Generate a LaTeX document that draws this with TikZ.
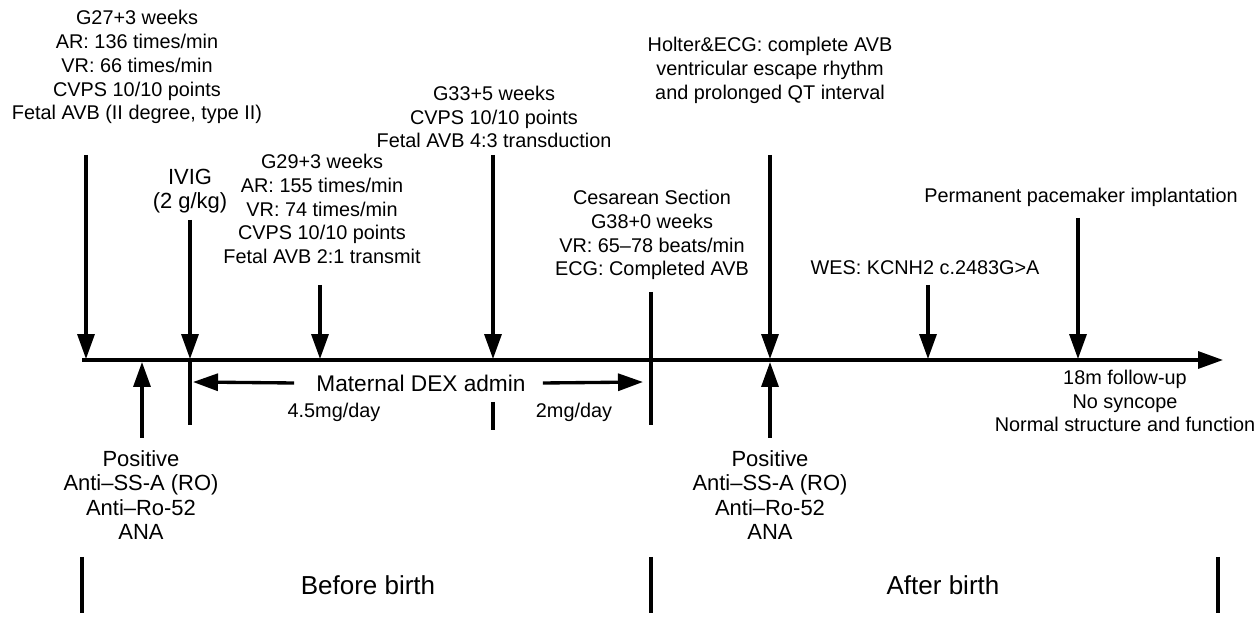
\documentclass[tikz,border=0pt]{standalone}
\usepackage{fontspec}
\setmainfont{Liberation Sans}
\usetikzlibrary{arrows.meta}
\tikzset{
    bar/.style={line width=1.9pt},
    pointer/.style={bar, -{Triangle[length=0.5cm,width=0.34cm]}},
    info/.style={align=center, inner sep=0pt, font=\fontsize{11.3}{13.6}\selectfont},
    infobig/.style={align=center, inner sep=0pt, font=\fontsize{12.5}{13.8}\selectfont},
    dose/.style={inner sep=0pt, font=\fontsize{11.3}{13}\selectfont},
    period/.style={inner sep=0pt, font=\fontsize{14.8}{17}\selectfont}
}
\begin{document}
\begin{tikzpicture}[x=0.02cm, y=-0.02cm]
        \useasboundingbox (0,0) rectangle (1257,617);

        % Coordinates
        \coordinate (start) at (82,360);
        \coordinate (end) at (1223,360);
        \coordinate (A) at (86,359);
        \coordinate (A0) at (86,155);
        \coordinate (B) at (190,359);
        \coordinate (B0) at (190,220);
        \coordinate (B1) at (190,425);
        \coordinate (C) at (320,359);
        \coordinate (C0) at (320,285);
        \coordinate (D) at (493,359);
        \coordinate (D0) at (493,155);
        \coordinate (E0) at (651,292);
        \coordinate (E1) at (651,425);
        \coordinate (F) at (770,359);
        \coordinate (F0) at (770,155);
        \coordinate (G) at (928,359);
        \coordinate (G0) at (928,285);
        \coordinate (H) at (1078,359);
        \coordinate (H0) at (1078,218);
        \coordinate (P) at (142,362);
        \coordinate (P0) at (142,438);
        \coordinate (Q) at (770,362);
        \coordinate (Q0) at (770,438);

        % Time axis
        \draw[pointer] (start) -- (end);

        % Events above the axis
        \draw[pointer] (A0) -- (A);
        \draw[pointer] (B0) -- (B);
        \draw[bar] (B) -- (B1);
        \draw[pointer] (C0) -- (C);
        \draw[pointer] (D0) -- (D);
        \draw[bar] (E0) -- (E1);
        \draw[pointer] (F0) -- (F);
        \draw[pointer] (G0) -- (G);
        \draw[pointer] (H0) -- (H);

        % Events below the axis
        \draw[pointer] (P0) -- (P);
        \draw[pointer] (Q0) -- (Q);

        % Labels
        \node[info] (g27) at (137,67) {G27+3 weeks\\AR: 136 times/min\\VR: 66 times/min\\CVPS 10/10 points\\Fetal AVB (II degree, type II)};
        \node[infobig] (ivig) at (190,191) {IVIG\\(2 g/kg)};
        \node[info] (g29) at (322,209) {G29+3 weeks\\AR: 155 times/min\\VR: 74 times/min\\CVPS 10/10 points\\Fetal AVB 2:1 transmit};
        \node[info] (g33) at (494,117) {G33+5 weeks\\CVPS 10/10 points\\Fetal AVB 4:3 transduction};
        \node[info] (cs) at (652,235) {Cesarean Section\\G38+0 weeks\\VR: 65--78 beats/min\\ECG: Completed AVB};
        \node[info] (holter) at (770,70) {Holter\&ECG: complete AVB\\ventricular escape rhythm\\and prolonged QT interval};
        \node[info] (wes) at (925,268) {WES: KCNH2 c.2483G>A};
        \node[info] (ppm) at (1081,197) {Permanent pacemaker implantation};
        \node[info] (fu) at (1125,401) {18m follow-up\\No syncope\\Normal structure and function};
        \node[infobig] (pos1) at (141,495) {Positive\\Anti--SS-A (RO)\\Anti--Ro-52\\ANA};
        \node[infobig] (pos2) at (770,495) {Positive\\Anti--SS-A (RO)\\Anti--Ro-52\\ANA};

        % Maternal dexamethasone
        \node[infobig, font=\fontsize{12.9}{15}\selectfont] (dex) at (421,383) {Maternal DEX admin};
        \coordinate (dexL) at (193,382);
        \coordinate (dexR) at (643,382);
        \draw[pointer] (dex.west) ++(-22,0) coordinate (dexL0) -- (dexL);
        \draw[pointer] (dex.east) ++(17,0) coordinate (dexR0) -- (dexR);
        \coordinate (tick0) at (493,402);
        \coordinate (tick1) at (493,430);
        \draw[bar] (tick0) -- (tick1);
        \node[dose] (high) at (334,412) {4.5mg/day};
        \node[dose] (low) at (574,412) {2mg/day};

        % Periods
        \coordinate (S1) at (82,557);
        \coordinate (S1b) at (82,613);
        \coordinate (S2) at (651,557);
        \coordinate (S2b) at (651,613);
        \coordinate (S3) at (1218,557);
        \coordinate (S3b) at (1218,613);
        \draw[bar] (S1) -- (S1b);
        \draw[bar] (S2) -- (S2b);
        \draw[bar] (S3) -- (S3b);
        \node[period] (before) at (368,585) {Before birth};
        \node[period] (after) at (943,585) {After birth};
    \end{tikzpicture}
\end{document}
